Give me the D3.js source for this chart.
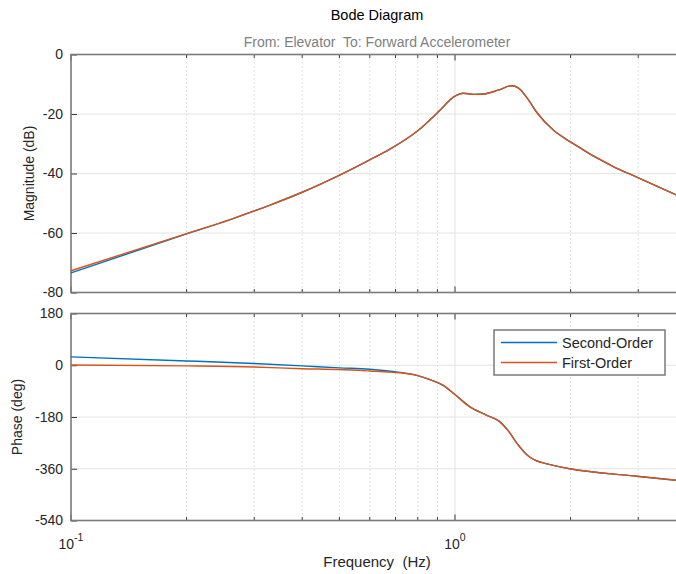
<!DOCTYPE html>
<html>
<head>
<meta charset="utf-8">
<script src="https://cdn.jsdelivr.net/npm/d3@7"></script>
<style>
  body { margin: 0; background: #fff; }
  text { font-family: "Liberation Sans", Arial, Helvetica, sans-serif; }
</style>
</head>
<body>
<svg id="chart" width="676" height="574"></svg>
<script>
// Frequency response samples (Hz) for the magnitude plot
const freqMag = [0.1, 0.2, 0.261, 0.33, 0.4, 0.507, 0.598, 0.677, 0.795, 0.896, 0.914, 1.0,
  1.051, 1.12, 1.185, 1.294, 1.405, 1.461, 1.549, 1.632, 1.803, 1.993, 2.584, 2.984, 3.764];
const magSecondOrder = [-73.4, -60.3, -55.4, -50.6, -46.3, -40.2, -35.5, -31.8, -25.9, -19.8,
  -18.7, -14.0, -13.0, -13.4, -13.3, -12.0, -10.5, -11.2, -15.0, -19.4, -25.4, -29.3, -37.7,
  -41.3, -47.2];
const magFirstOrder = [-72.7, -60.2, -55.4, -50.6, -46.3, -40.2, -35.5, -31.8, -25.9, -19.8,
  -18.7, -14.0, -13.0, -13.4, -13.3, -12.0, -10.5, -11.2, -15.0, -19.4, -25.4, -29.3, -37.7,
  -41.3, -47.2];

// Phase samples (Hz, degrees)
const freqPhase = [0.1, 0.2, 0.3, 0.4, 0.5, 0.6, 0.68, 0.795, 0.861, 0.932, 1.0, 1.094, 1.21,
  1.31, 1.35, 1.391, 1.433, 1.477, 1.522, 1.568, 1.635, 1.736, 1.993, 2.973, 3.764];
const phaseSecondOrder = [29, 15, 6, -2, -9, -14, -21, -35, -50, -70, -102, -145, -174,
  -197, -215, -236, -262, -285, -305, -320, -333, -343, -360, -386, -400];
const phaseFirstOrder = [1, -2, -6, -12, -15, -20, -24, -35, -50, -70, -102, -145, -174,
  -197, -215, -236, -262, -285, -305, -320, -333, -343, -360, -386, -400];

const magTicks = [0, -20, -40, -60, -80];
const phaseTicks = [180, 0, -180, -360, -540];
const decadeExponents = [-1, 0, 1];
const seriesNames = ["Second-Order", "First-Order"];
const seriesColors = ["#0072BD", "#D95319"];

const svg = d3.select("#chart");
const frameColor = "#7a7a7a";
const tickColor = "#3a3a3a";
const textColor = "#262626";

// Shared log frequency axis; the axes box runs just past the right edge of the figure
const x = d3.scaleLog().domain([0.1, 10]).range([71, 839]);
const axesLeft = 71, axesRight = 683;
const fMax = x.invert(axesRight);
const decades = decadeExponents.map(e => Math.pow(10, e)).filter(f => f <= fMax);
const minorFreqs = [];
decadeExponents.forEach(e => {
  for (let k = 2; k <= 9; k++) {
    const f = k * Math.pow(10, e);
    if (f < fMax) minorFreqs.push(f);
  }
});

const yMag = d3.scaleLinear().domain([-80, 0]).range([292.5, 54.5]);
const yPhase = d3.scaleLinear().domain([-540, 180]).range([520.5, 313.5]);

function drawPanel(yScale, ticks) {
  const [yb, yt] = yScale.range();
  const g = svg.append("g");

  // minor vertical grid (dotted)
  g.selectAll("line.minor").data(minorFreqs).join("line")
    .attr("x1", d => x(d)).attr("x2", d => x(d))
    .attr("y1", yt).attr("y2", yb)
    .attr("stroke", "#c4c4c4").attr("stroke-width", 1)
    .attr("stroke-dasharray", "1,3");

  // major vertical grid
  g.selectAll("line.vmajor").data(decades.filter(f => x(f) > axesLeft + 1)).join("line")
    .attr("x1", d => x(d)).attr("x2", d => x(d))
    .attr("y1", yt).attr("y2", yb)
    .attr("stroke", "#e3e3e3").attr("stroke-width", 1);

  // major horizontal grid
  const [d0, d1] = yScale.domain();
  g.selectAll("line.hmajor").data(ticks.filter(t => t !== d0 && t !== d1)).join("line")
    .attr("x1", axesLeft).attr("x2", axesRight)
    .attr("y1", d => yScale(d)).attr("y2", d => yScale(d))
    .attr("stroke", "#e3e3e3").attr("stroke-width", 1);

  // y axis: ticks pointing inward, labels outside
  const yAxis = g.append("g")
    .attr("transform", `translate(${axesLeft},0)`)
    .call(d3.axisLeft(yScale).tickValues(ticks).tickSizeInner(-6).tickSizeOuter(0)
      .tickPadding(8).tickFormat(d => String(d)));
  yAxis.select(".domain").remove();
  yAxis.selectAll(".tick line").attr("stroke", tickColor);
  yAxis.selectAll(".tick text")
    .attr("fill", textColor).attr("font-size", 14)
    .attr("font-family", "'Liberation Sans', Arial, sans-serif");

  // x ticks on the top and bottom edges, longer at decades
  const xTickVals = decades.concat(minorFreqs);
  [[yt, 1], [yb, -1]].forEach(([yy, dir]) => {
    g.selectAll(null).data(xTickVals).join("line")
      .attr("x1", d => x(d)).attr("x2", d => x(d))
      .attr("y1", yy)
      .attr("y2", d => yy + dir * (decades.includes(d) ? 6 : 3.5))
      .attr("stroke", tickColor).attr("stroke-width", 1);
  });

  // axes box
  g.append("rect")
    .attr("x", axesLeft).attr("y", yt)
    .attr("width", axesRight - axesLeft).attr("height", yb - yt)
    .attr("fill", "none").attr("stroke", frameColor).attr("stroke-width", 1.6);
  return g;
}

function drawSeries(g, freqs, series, yScale, color) {
  const pts = freqs.map((f, i) => [f, series[i]]);
  const line = d3.line()
    .x(d => x(d[0])).y(d => yScale(d[1]))
    .curve(d3.curveMonotoneX);
  g.append("path").datum(pts)
    .attr("d", line)
    .attr("fill", "none")
    .attr("stroke", color).attr("stroke-width", 1.4)
    .attr("stroke-linejoin", "round");
}

// Magnitude panel
const magPanel = drawPanel(yMag, magTicks);
drawSeries(magPanel, freqMag, magSecondOrder, yMag, seriesColors[0]);
drawSeries(magPanel, freqMag, magFirstOrder, yMag, seriesColors[1]);

// Phase panel
const phasePanel = drawPanel(yPhase, phaseTicks);
drawSeries(phasePanel, freqPhase, phaseSecondOrder, yPhase, seriesColors[0]);
drawSeries(phasePanel, freqPhase, phaseFirstOrder, yPhase, seriesColors[1]);

// Decade tick labels as 10^n
const xl = svg.append("g");
decades.forEach(f => {
  const t = xl.append("text")
    .attr("x", x(f)).attr("y", 549)
    .attr("text-anchor", "middle")
    .attr("fill", textColor).attr("font-size", 14);
  t.append("tspan").text("10");
  t.append("tspan").attr("dy", -8).attr("font-size", 10.5)
    .text(String(Math.round(Math.log10(f))));
});

// Titles and axis labels
svg.append("text").attr("x", 377).attr("y", 20)
  .attr("text-anchor", "middle").attr("font-size", 14.5).attr("fill", "#000")
  .text("Bode Diagram");
svg.append("text").attr("x", 377).attr("y", 47)
  .attr("text-anchor", "middle").attr("font-size", 14).attr("fill", "#808080")
  .style("white-space", "pre")
  .text("From: Elevator  To: Forward Accelerometer");
svg.append("text").attr("x", 377).attr("y", 567)
  .attr("text-anchor", "middle").attr("font-size", 15).attr("fill", textColor)
  .style("white-space", "pre")
  .text("Frequency  (Hz)");
svg.append("text")
  .attr("transform", `translate(34,${(yMag.range()[0] + yMag.range()[1]) / 2}) rotate(-90)`)
  .attr("text-anchor", "middle").attr("font-size", 14).attr("fill", textColor)
  .text("Magnitude (dB)");
svg.append("text")
  .attr("transform", `translate(22,${(yPhase.range()[0] + yPhase.range()[1]) / 2}) rotate(-90)`)
  .attr("text-anchor", "middle").attr("font-size", 14).attr("fill", textColor)
  .text("Phase (deg)");

// Legend
const legend = svg.append("g").attr("transform", "translate(494,330)");
legend.append("rect")
  .attr("width", 171).attr("height", 45)
  .attr("fill", "#fff").attr("stroke", frameColor).attr("stroke-width", 1.5);
seriesNames.forEach((name, i) => {
  const cy = 12.5 + i * 20;
  legend.append("line")
    .attr("x1", 7).attr("x2", 63).attr("y1", cy).attr("y2", cy)
    .attr("stroke", seriesColors[i]).attr("stroke-width", 1.4);
  legend.append("text")
    .attr("x", 68).attr("y", cy).attr("dy", "0.36em")
    .attr("font-size", 14.5).attr("fill", textColor)
    .text(name);
});
</script>
</body>
</html>
